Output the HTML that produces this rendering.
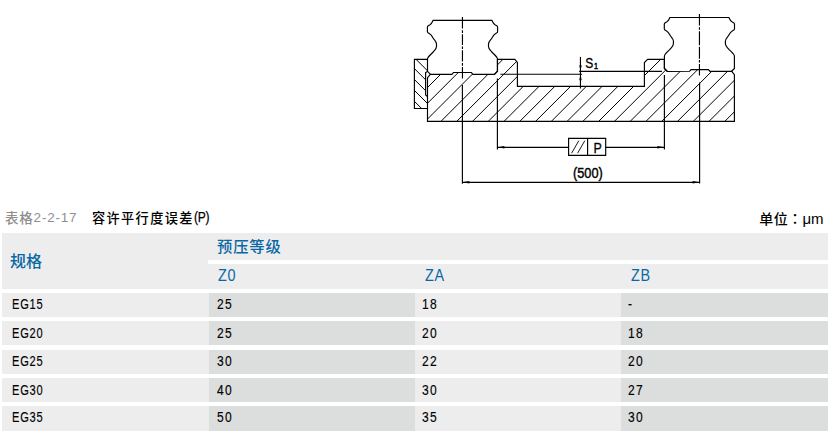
<!DOCTYPE html>
<html lang="zh-CN"><head><meta charset="utf-8"><title>容许平行度误差(P)</title>
<style>
html,body{margin:0;padding:0;background:#fff;}
body{width:836px;height:442px;position:relative;overflow:hidden;font-family:"Liberation Sans","Noto Sans CJK SC",sans-serif;color:#000;}
div{position:absolute;box-sizing:border-box;white-space:nowrap;}
.cap{font-size:13.5px;line-height:20px;top:207.6px;letter-spacing:0.8px;}
.cj{position:relative;top:1.3px;}
.nr{display:inline-block;transform-origin:0 50%;transform:scaleX(0.86);letter-spacing:-0.3px;-webkit-text-stroke:0.25px #000;position:relative;top:-0.3px}
.hd{background:#ededed;}
.sep{background:#fff;}
.hc{color:#0867a5;font-size:16px;line-height:24px;font-weight:500;letter-spacing:0;}
.hz{color:#0867a5;font-size:16px;line-height:24px;transform-origin:0 50%;transform:scaleX(0.9);letter-spacing:0.9px;}
.c{height:24px;font-size:14px;line-height:22px;}
.c span{display:inline-block;margin-left:8.6px;transform-origin:0 50%;transform:scaleX(0.86);letter-spacing:1.6px;-webkit-text-stroke:0.14px #000;}
.c.k span{transform:scaleX(0.79);margin-left:9.6px;letter-spacing:1.0px;}
</style></head><body>
<svg width="836" height="200" viewBox="0 0 836 200" style="position:absolute;left:0;top:0">
<defs>
<clipPath id="cb"><path d="M427.5,121.35 L427.5,77.7 L430.4,74.4 L451.9,74.4 L453.5,72.5 L471.4,72.5 L472.8,74.4 L494.3,74.4 L497.4,71.2 L497.4,59.4 L514.9,59.4 L517.4,62.4 L517.4,86.3 L644.4,86.3 L644.4,62.5 L647.6,59.4 L664.4,59.4 L664.4,68.4 L667.4,71.5 L689.6,71.3 L691.0,69.6 L708.4,69.6 L710.0,71.3 L731.7,71.3 L734.4,74.7 L734.4,121.35 Z"/></clipPath>
<clipPath id="ck"><rect x="414.4" y="59.4" width="11.200000000000045" height="49.1"/><rect x="414.4" y="59.4" width="13.100000000000023" height="12.600000000000001"/><rect x="414.4" y="96" width="13.100000000000023" height="12.5"/></clipPath>
</defs>
<g fill="none" stroke="#000" stroke-linecap="butt" stroke-linejoin="miter">
<path d="M390.00,125 L460.00,55 M405.77,125 L475.77,55 M421.54,125 L491.54,55 M437.31,125 L507.31,55 M453.08,125 L523.08,55 M468.85,125 L538.85,55 M484.62,125 L554.62,55 M500.39,125 L570.39,55 M516.16,125 L586.16,55 M531.93,125 L601.93,55 M547.70,125 L617.70,55 M563.47,125 L633.47,55 M579.24,125 L649.24,55 M595.01,125 L665.01,55 M610.78,125 L680.78,55 M626.55,125 L696.55,55 M642.32,125 L712.32,55 M658.09,125 L728.09,55 M673.86,125 L743.86,55 M689.63,125 L759.63,55 M705.40,125 L775.40,55 M721.17,125 L791.17,55 M736.94,125 L806.94,55" clip-path="url(#cb)" stroke-width="1.0" stroke="#000"/>
<path d="M410,53.30 L430,73.30 M410,64.20 L430,84.20 M410,75.10 L430,95.10 M410,86.00 L430,106.00 M410,96.90 L430,116.90 M410,107.80 L430,127.80" clip-path="url(#ck)" stroke-width="1.0" stroke="#000"/>
<g stroke-width="1.15">
<path d="M427.5,121.35 L427.5,77.7 L430.4,74.4 L451.9,74.4 L453.5,72.5 L471.4,72.5 L472.8,74.4 L494.3,74.4 L497.4,71.2 L497.4,59.4 L514.9,59.4 L517.4,62.4 L517.4,86.3 L644.4,86.3 L644.4,62.5 L647.6,59.4 L664.4,59.4 L664.4,68.4 L667.4,71.5 L689.6,71.3 L691.0,69.6 L708.4,69.6 L710.0,71.3 L731.7,71.3 L734.4,74.7 L734.4,121.35 Z"/>
<path d="M430.50,74.40 L427.50,71.30 L427.50,59.00 C427.50,56.90 431.50,53.90 433.20,52.00 C435.00,50.00 436.50,49.00 436.50,46.60 L436.50,44.00 C436.50,41.40 434.00,39.90 432.90,37.70 C431.90,35.70 430.90,34.40 429.30,33.60 C427.90,33.00 427.40,32.80 427.40,31.80 L427.40,27.00 C427.40,25.80 428.30,25.60 429.70,24.90 C431.70,23.90 432.10,22.40 433.00,20.40 L492.00,20.40 C492.90,22.40 493.30,23.90 495.30,24.90 C496.70,25.60 497.60,25.80 497.60,27.00 L497.60,31.80 C497.60,32.80 497.10,33.00 495.70,33.60 C494.10,34.40 493.10,35.70 492.10,37.70 C491.00,39.90 488.50,41.40 488.50,44.00 L488.50,46.60 C488.50,49.00 490.00,50.00 491.80,52.00 C493.50,53.90 497.50,56.90 497.50,59.00 L497.50,71.30 L494.50,74.40"/>
<path d="M667.40,71.50 L664.40,68.40 L664.40,56.10 C664.40,54.00 668.40,51.00 670.10,49.10 C671.90,47.10 673.40,46.10 673.40,43.70 L673.40,41.10 C673.40,38.50 670.90,37.00 669.80,34.80 C668.80,32.80 667.80,31.50 666.20,30.70 C664.80,30.10 664.30,29.90 664.30,28.90 L664.30,24.10 C664.30,22.90 665.20,22.70 666.60,22.00 C668.60,21.00 669.00,19.50 669.90,17.50 L728.90,17.50 C729.80,19.50 730.20,21.00 732.20,22.00 C733.60,22.70 734.50,22.90 734.50,24.10 L734.50,28.90 C734.50,29.90 734.00,30.10 732.60,30.70 C731.00,31.50 730.00,32.80 729.00,34.80 C727.90,37.00 725.40,38.50 725.40,41.10 L725.40,43.70 C725.40,46.10 726.90,47.10 728.70,49.10 C730.40,51.00 734.40,54.00 734.40,56.10 L734.40,68.40 L731.40,71.50"/>
<!-- side block -->
<path d="M427.5,59.4 L414.4,59.4 L414.4,108.5 L427.5,108.5"/>
<path d="M427.5,71.4 L425.6,72.5 L425.6,94.9 L427.5,96.6"/>
<!-- right rail corner bits -->

<!-- S1 reference lines -->
<path d="M500.4,74.2 L582,74.2"/>
<path d="M579.2,71.4 L661.9,71.4"/>
<path d="M580.45,56.9 L580.45,88.5"/>
<!-- centre lines -->
<path d="M462.45,17 V78.4" stroke-dasharray="11.6 1.7 2.8 1.2 10.8 1.3 2.5 1.4 11.3 1.4 2.8 1.3 11.3 50"/>
<path d="M699.45,13.9 V75.6" stroke-dasharray="11.6 1.7 2.5 1.5 14.1 1.4 12 1.4 2.5 1.4 11.6 50"/>
<!-- extension lines -->
<path d="M462.4,85 V183.7"/>
<path d="M497.4,78.4 V149.4"/>
<path d="M664.4,75.1 V149.5"/>
<path d="M699.6,82.4 V183.5"/>
<!-- dim lines -->
<path d="M497.4,147.3 H568.6 M605.7,147.3 H664.4"/>
<path d="M462.4,182.3 H699.6"/>
<!-- tolerance frame -->
<path d="M568.6,138.4 H605.7 V155.4 H568.6 Z M587.6,138.4 V155.4"/>
</g>
<g stroke-width="0.9">
<path d="M571.6,153.2 L578.8,140.7 M577.6,153.2 L584.8,140.7"/>
</g>
</g>
<g fill="#000" stroke="none">
<!-- arrows -->
<path d="M497.4,147.3 L504.4,146.0 L504.4,148.6 Z"/>
<path d="M664.4,147.3 L657.4,146.0 L657.4,148.6 Z"/>
<path d="M462.4,182.3 L469.4,181.0 L469.4,183.6 Z"/>
<path d="M699.6,182.3 L692.6,181.0 L692.6,183.6 Z"/>
<path d="M580.5,71.2 L579.3,65.2 L581.7,65.2 Z"/>
<path d="M580.5,74.2 L579.3,80.2 L581.7,80.2 Z"/>
</g>
<g font-family="'Liberation Sans', sans-serif" fill="#000" stroke="#000" stroke-width="0.3">
<text x="585.2" y="68.1" font-size="14.5" textLength="8" lengthAdjust="spacingAndGlyphs">S</text>
<text transform="translate(594.0,68.7) scale(0.42,0.5)" font-size="17.4" stroke-width="0.9">1</text>
<text x="593.5" y="152.6" font-size="14.3" textLength="8.3" lengthAdjust="spacingAndGlyphs">P</text>
<text x="573" y="178.2" font-size="14.2" textLength="29.8" lengthAdjust="spacingAndGlyphs" stroke-width="0.4">(500)</text>
</g>
</svg>
<div class="cap" style="left:5px;color:#8f8f8f;"><span class="cj" style="font-weight:500">表格</span>2-2-17</div>
<div class="cap" style="left:92px;font-weight:500;letter-spacing:1.35px;font-size:13.2px"><span class="cj" style="top:0.3px">容许平行度误差</span><span class="nr" style="margin-left:0.6px;font-size:14px;transform:scaleX(0.86)">(P)</span></div>
<div class="cap" style="right:12.4px;font-weight:500;font-size:14px;letter-spacing:0.4px"><span class="cj" style="top:0.3px">单位<span lang="zh-TW" style="font-family:'Noto Sans CJK TC','Noto Sans CJK JP',sans-serif">：</span></span><span style="font-size:15px;letter-spacing:0;font-weight:400;position:relative;top:0.3px">μm</span></div>
<div class="hd" style="left:2px;top:233px;width:826px;height:56px"></div>
<div class="sep" style="left:208px;top:260px;width:620px;height:4px"></div>
<div class="hc b" style="left:10px;top:250px;">规格</div>
<div class="hc b" style="left:217px;top:234.8px;font-size:15.3px;letter-spacing:0.85px">预压等级</div>
<div class="hz" style="left:218.3px;top:264px;">Z0</div>
<div class="hz" style="left:424.6px;top:264px;">ZA</div>
<div class="hz" style="left:630.6px;top:264px;">ZB</div>
<div class="c k" style="left:2px;top:293px;width:207px;height:24px;line-height:22.0px;background:#ededed"><span>EG15</span></div>
<div class="c" style="left:209px;top:293px;width:206px;height:24px;line-height:22.0px;background:#dcdddd"><span style="margin-left:8.2px">25</span></div>
<div class="c" style="left:415px;top:293px;width:206px;height:24px;line-height:22.0px;background:#ededed"><span style="margin-left:6.8px">18</span></div>
<div class="c" style="left:621px;top:293px;width:207px;height:24px;line-height:22.0px;background:#dcdddd"><span style="margin-left:7.0px">-</span></div>
<div class="c k" style="left:2px;top:321px;width:207px;height:24px;line-height:24.8px;background:#ededed"><span>EG20</span></div>
<div class="c" style="left:209px;top:321px;width:206px;height:24px;line-height:24.8px;background:#dcdddd"><span style="margin-left:8.2px">25</span></div>
<div class="c" style="left:415px;top:321px;width:206px;height:24px;line-height:24.8px;background:#ededed"><span style="margin-left:6.8px">20</span></div>
<div class="c" style="left:621px;top:321px;width:207px;height:24px;line-height:24.8px;background:#dcdddd"><span style="margin-left:7.0px">18</span></div>
<div class="c k" style="left:2px;top:350px;width:207px;height:24px;line-height:22.4px;background:#ededed"><span>EG25</span></div>
<div class="c" style="left:209px;top:350px;width:206px;height:24px;line-height:22.4px;background:#dcdddd"><span style="margin-left:8.2px">30</span></div>
<div class="c" style="left:415px;top:350px;width:206px;height:24px;line-height:22.4px;background:#ededed"><span style="margin-left:6.8px">22</span></div>
<div class="c" style="left:621px;top:350px;width:207px;height:24px;line-height:22.4px;background:#dcdddd"><span style="margin-left:7.0px">20</span></div>
<div class="c k" style="left:2px;top:378px;width:207px;height:24px;line-height:24.1px;background:#ededed"><span>EG30</span></div>
<div class="c" style="left:209px;top:378px;width:206px;height:24px;line-height:24.1px;background:#dcdddd"><span style="margin-left:8.2px">40</span></div>
<div class="c" style="left:415px;top:378px;width:206px;height:24px;line-height:24.1px;background:#ededed"><span style="margin-left:6.8px">30</span></div>
<div class="c" style="left:621px;top:378px;width:207px;height:24px;line-height:24.1px;background:#dcdddd"><span style="margin-left:7.0px">27</span></div>
<div class="c k" style="left:2px;top:406px;width:207px;height:25px;line-height:23.8px;background:#ededed"><span>EG35</span></div>
<div class="c" style="left:209px;top:406px;width:206px;height:25px;line-height:23.8px;background:#dcdddd"><span style="margin-left:8.2px">50</span></div>
<div class="c" style="left:415px;top:406px;width:206px;height:25px;line-height:23.8px;background:#ededed"><span style="margin-left:6.8px">35</span></div>
<div class="c" style="left:621px;top:406px;width:207px;height:25px;line-height:23.8px;background:#dcdddd"><span style="margin-left:7.0px">30</span></div>
</body></html>
